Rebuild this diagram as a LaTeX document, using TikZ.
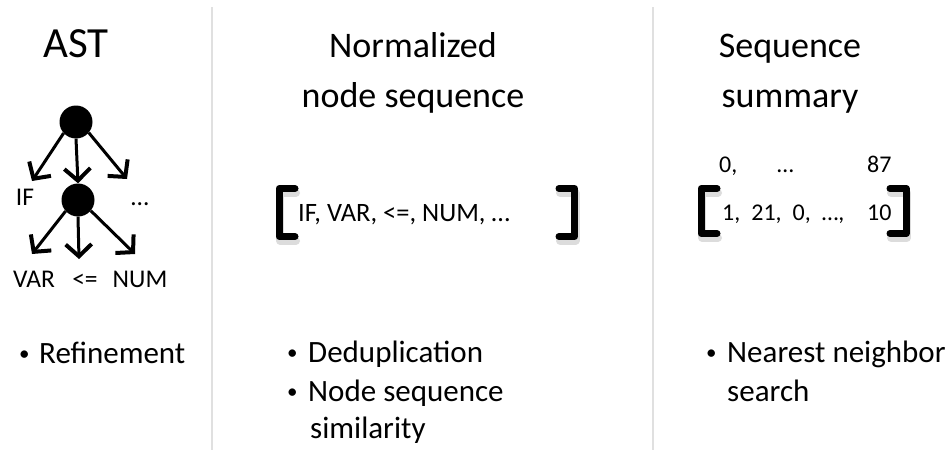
\documentclass[tikz,border=0pt]{standalone}
\usepackage{fontspec}
\usepackage{graphicx}
\setmainfont{Carlito}
\usetikzlibrary{arrows.meta}
\newcommand{\bulletmark}{\raisebox{3pt}{\fontsize{21}{21}\selectfont •}}
\begin{document}
\begin{tikzpicture}[x=1pt,y=-1pt,
  title/.style={font=\fontsize{36}{44}\selectfont, anchor=base, inner sep=0pt},
  bigtitle/.style={font=\fontsize{43}{50}\selectfont, anchor=base, inner sep=0pt},
  bul/.style={font=\fontsize{31}{38}\selectfont, anchor=base west, inner sep=0pt},
  bmark/.style={anchor=base west, inner sep=0pt},
  small/.style={font=\fontsize{24}{28}\selectfont, anchor=base west, inner sep=0pt},
  seqtext/.style={font=\fontsize{26.5}{30}\selectfont, anchor=base west, inner sep=0pt},
  lab/.style={font=\fontsize{25.5}{28}\selectfont, anchor=base, inner sep=0pt},
  dot/.style={circle, fill=black, inner sep=0pt, minimum size=33pt},
  edge/.style={line width=3pt, -{Straight Barb[length=12pt,width=26pt,line width=4pt]}},
  sep/.style={line width=1.5pt, draw=black!12},
  brk/.style={line width=7pt, line join=round, line cap=round},
  brkshadow/.style={line width=8pt, draw=black!30, opacity=0.45, line join=round, line cap=round}]
\useasboundingbox (0,0) rectangle (951,452);

% separators
\coordinate (s1t) at (212,7); \coordinate (s1b) at (212,450);
\coordinate (s2t) at (653,7); \coordinate (s2b) at (653,450);
\draw[sep] (s1t) -- (s1b);
\draw[sep] (s2t) -- (s2b);

% titles
\node[bigtitle] (t1) at (76,58) {AST};
\node[title] (t2a) at (413,58) {Normalized};
\node[title] (t2b) at (413,107) {node sequence};
\node[title] (t3a) at (790,58) {Sequence};
\node[title] (t3b) at (790,107) {summary};

% tree
\node[dot] (r1) at (76,122) {};
\node[dot] (r2) at (78,200) {};
\coordinate (a1) at (32,181);
\coordinate (a3) at (127,179);
\coordinate (b1) at (32,254);
\coordinate (b2) at (79,259);
\coordinate (b3) at (135,254);
\draw[edge] (r1.222) -- (a1);
\draw[edge] (r1.south) -- (r2.north);
\draw[edge] (r1.-40) -- (a3);
\draw[edge] (r2.222) -- (b1);
\draw[edge] (r2.south) -- (b2);
\draw[edge] (r2.-40) -- (b3);
\node[lab] (lif) at (25,205) {IF};
\node[lab] (ldots) at (140,205) {…};
\node[lab] (lvar) at (34,287) {VAR};
\node[lab] (lle) at (85,287) {<=};
\node[lab] (lnum) at (140,287) {NUM};

% middle brackets
\coordinate (m1a) at (295,188.5); \coordinate (m1b) at (279,188.5);
\coordinate (m1c) at (279,236.5); \coordinate (m1d) at (295,236.5);
\coordinate (m2a) at (559,188.5); \coordinate (m2b) at (574.5,188.5);
\coordinate (m2c) at (574.5,236.5); \coordinate (m2d) at (559,236.5);
\draw[brkshadow] ([shift={(1,4)}]m1a) -- ([shift={(1,4)}]m1b) -- ([shift={(1,4)}]m1c) -- ([shift={(1,4)}]m1d);
\draw[brkshadow] ([shift={(1,4)}]m2a) -- ([shift={(1,4)}]m2b) -- ([shift={(1,4)}]m2c) -- ([shift={(1,4)}]m2d);
\draw[brk] (m1a) -- (m1b) -- (m1c) -- (m1d);
\draw[brk] (m2a) -- (m2b) -- (m2c) -- (m2d);
\node[seqtext] (mseq) at (298,221) {IF, VAR, <=, NUM, …};

% right brackets
\coordinate (n1a) at (717,188.5); \coordinate (n1b) at (701,188.5);
\coordinate (n1c) at (701,233.5); \coordinate (n1d) at (717,233.5);
\coordinate (n2a) at (890,188.5); \coordinate (n2b) at (906,188.5);
\coordinate (n2c) at (906,233.5); \coordinate (n2d) at (890,233.5);
\draw[brkshadow] ([shift={(1,4)}]n1a) -- ([shift={(1,4)}]n1b) -- ([shift={(1,4)}]n1c) -- ([shift={(1,4)}]n1d);
\draw[brkshadow] ([shift={(1,4)}]n2a) -- ([shift={(1,4)}]n2b) -- ([shift={(1,4)}]n2c) -- ([shift={(1,4)}]n2d);
\draw[brk] (n1a) -- (n1b) -- (n1c) -- (n1d);
\draw[brk] (n2a) -- (n2b) -- (n2c) -- (n2d);
\node[small] (idx0) at (719,172) {0,};
\node[small] (idxd) at (777,172) {…};
\node[small] (idx87) at (867,172) {87};
\node[small] (vals) at (722,220) {\spaceskip=11pt 1, 21, 0, …,};
\node[small] (v10) at (867,220) {10};

% bullets
\node[bmark] (bm1) at (19,363) {\bulletmark};
\node[bul] (bl1) at (39,363) {Refinement};
\node[bmark] (bm2) at (287,362) {\bulletmark};
\node[bul] (bl2) at (308,362) {Deduplication};
\node[bmark] (bm3) at (287,401) {\bulletmark};
\node[bul] (bl3) at (308,401) {Node sequence};
\node[bul] (bl4) at (310,438) {similarity};
\node[bmark] (bm4) at (706,362) {\bulletmark};
\node[bul] (bl5) at (727,362) {Nearest neighbor};
\node[bul] (bl6) at (727,401) {search};
\end{tikzpicture}
\end{document}
